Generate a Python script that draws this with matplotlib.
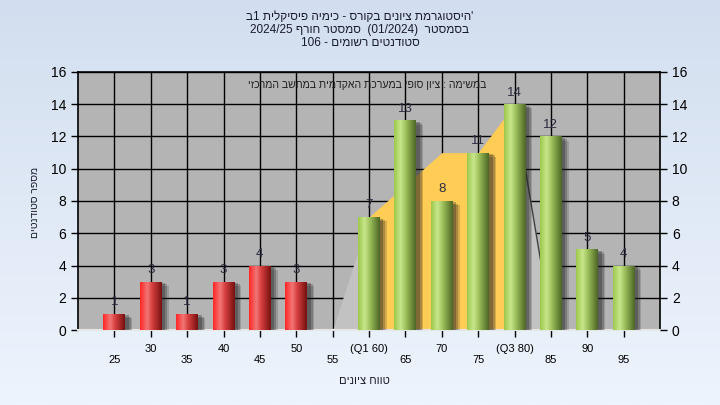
import re
import numpy as np
import matplotlib
matplotlib.use('Agg')
import matplotlib.pyplot as plt
from matplotlib.colors import LinearSegmentedColormap
import matplotlib.patheffects as pe

plt.rcParams['font.family'] = ['Liberation Sans', 'DejaVu Sans']

# ---------------- data ----------------
bins = [25, 30, 35, 40, 45, 50, 55, 60, 65, 70, 75, 80, 85, 90, 95]
counts = [1, 3, 1, 3, 4, 3, 0, 7, 13, 8, 11, 14, 12, 5, 4]
tick_labels = ['25', '30', '35', '40', '45', '50', '55', '(Q1 60)', '65', '70',
               '75', '(Q3 80)', '85', '90', '95']
fail_limit = 55
area_x = [55, 60, 65, 70, 75, 80, 85]
area_y = [0, 7, 9, 11, 11, 14, 0.5]
q1, q3 = 60, 80

title_l1 = "היסטוגרמת ציונים בקורס - כימיה פיסיקלית 1ב"
title_l2 = "בסמסטר  (01/2024)  סמסטר חורף 2024/25"
title_l3 = "סטודנטים רשומים - 106"
note = "במשימה : ציון סופי במערכת האקדמית במחשב המרכזי"
ylabel = "מספר סטודנטים"
xlabel = "טווח ציונים"


def vis(s):
    """Logical RTL string -> visual left-to-right order (numbers kept)."""
    tokens = re.findall(r'[0-9A-Za-z/.]+|.', s)
    mirror = {'(': ')', ')': '('}
    return ''.join(mirror.get(t, t) for t in reversed(tokens))


W, H = 720, 405
fig = plt.figure(figsize=(W / 100, H / 100), dpi=100)

# figure background gradient
bg = fig.add_axes([0, 0, 1, 1], zorder=-5)
bg_cmap = LinearSegmentedColormap.from_list('bg', ['#D2DEEF', '#EDF4FD'])
bg.imshow(np.linspace(0, 1, 256).reshape(-1, 1), cmap=bg_cmap, aspect='auto',
          extent=(0, 1, 0, 1), origin='upper')
bg.axis('off')

ax = fig.add_axes([78 / W, 1 - 330 / H, (660 - 78) / W, (330 - 72) / H])
ax.set_facecolor('#B4B4B4')
ax.set_axisbelow(True)

# area (IQR highlighted)
ax_ = np.array(area_x, dtype=float)
ay_ = np.array(area_y, dtype=float)
ax.fill_between(ax_, 0, ay_, where=(ax_ <= q1), color='#C2C2C2', lw=0, zorder=2)
ax.fill_between(ax_, 0, ay_, where=(ax_ >= q3), color='#C2C2C2', lw=0, zorder=2)
ax.fill_between(ax_, 0, ay_, where=(ax_ >= q1) & (ax_ <= q3), color='#FFCC55',
                lw=0, zorder=2)
m = ax_ >= q3
ax.plot(ax_[m], ay_[m], color='#404040', lw=1, zorder=2.5)

# bars with cylinder gradients
red_cmap = LinearSegmentedColormap.from_list(
    'r', [(0, '#FF2424'), (0.33, '#F27676'), (0.55, '#D84040'), (1, '#761010')])
green_cmap = LinearSegmentedColormap.from_list(
    'g', [(0, '#9CC84A'), (0.3, '#C8E68C'), (0.55, '#9CBF5A'), (1, '#4C6626')])
grad = np.linspace(0, 1, 128).reshape(1, -1)

bar_colors = ['#E03030' if b < fail_limit else '#98C050' for b in bins]
bars = ax.bar(bins, counts, width=3.0, color=bar_colors, linewidth=0, zorder=4)
for b, rect, c in zip(bins, bars, counts):
    if c <= 0:
        continue
    rect.set_path_effects([
        pe.SimplePatchShadow(offset=(5, -3), shadow_rgbFace='#202020', alpha=0.18),
        pe.SimplePatchShadow(offset=(4, -2), shadow_rgbFace='#202020', alpha=0.25),
        pe.SimplePatchShadow(offset=(2.5, -1), shadow_rgbFace='#202020', alpha=0.3),
        pe.Normal()])
    x0, w, h = rect.get_x(), rect.get_width(), rect.get_height()
    im = ax.imshow(grad, cmap=red_cmap if b < fail_limit else green_cmap,
                   aspect='auto', extent=(x0, x0 + w, 0, h), zorder=5,
                   interpolation='bilinear')
    im.set_clip_path(rect)
    ax.text(b, c + 0.35, str(c), ha='center', va='bottom', fontsize=9.5,
            color='#2A2A40', zorder=6)

ax.set_xlim(20, 100)
ax.set_ylim(0, 16)
ax.set_yticks(range(0, 17, 2))
ax.set_xticks(bins, [('\n' + t) if i % 2 == 0 else t for i, t in enumerate(tick_labels)],
              fontsize=8)
ax.grid(True, color='black', lw=1)
ax.tick_params(axis='y', direction='out', length=5, labelsize=10, width=1)
ax.tick_params(axis='x', direction='out', length=5, width=1, pad=5)
for s in ['left', 'right', 'top']:
    ax.spines[s].set_color('black')
    ax.spines[s].set_linewidth(1.2)
ax.spines['bottom'].set_color('#E6E6E6')
ax.spines['bottom'].set_linewidth(1.5)

ax2 = ax.twinx()
ax2.set_ylim(0, 16)
ax2.set_yticks(range(0, 17, 2))
ax2.tick_params(axis='y', direction='out', length=5, labelsize=10, width=1)
for s in ax2.spines.values():
    s.set_visible(False)

# texts
tcol = '#1A1A2E'
fig.text(360 / W, 1 - 17.5 / H, vis(title_l1) + "'", ha='center', va='center',
         fontsize=8.5, color=tcol)
fig.text(360 / W, 1 - 30.5 / H, vis(title_l2), ha='center', va='center',
         fontsize=8.5, color=tcol)
fig.text(360 / W, 1 - 43.5 / H, vis(title_l3), ha='center', va='center',
         fontsize=8.5, color=tcol)
fig.text(367 / W, 1 - 85 / H, vis(note), ha='center', va='center', fontsize=7.6,
         color='#202020')
fig.text(35 / W, 1 - 202 / H, vis(ylabel), ha='center', va='center', rotation=90,
         fontsize=7.5, color=tcol)
fig.text(364 / W, 1 - 381 / H, vis(xlabel), ha='center', va='center', fontsize=8,
         color=tcol)

fig.savefig('out.png', dpi=100)
